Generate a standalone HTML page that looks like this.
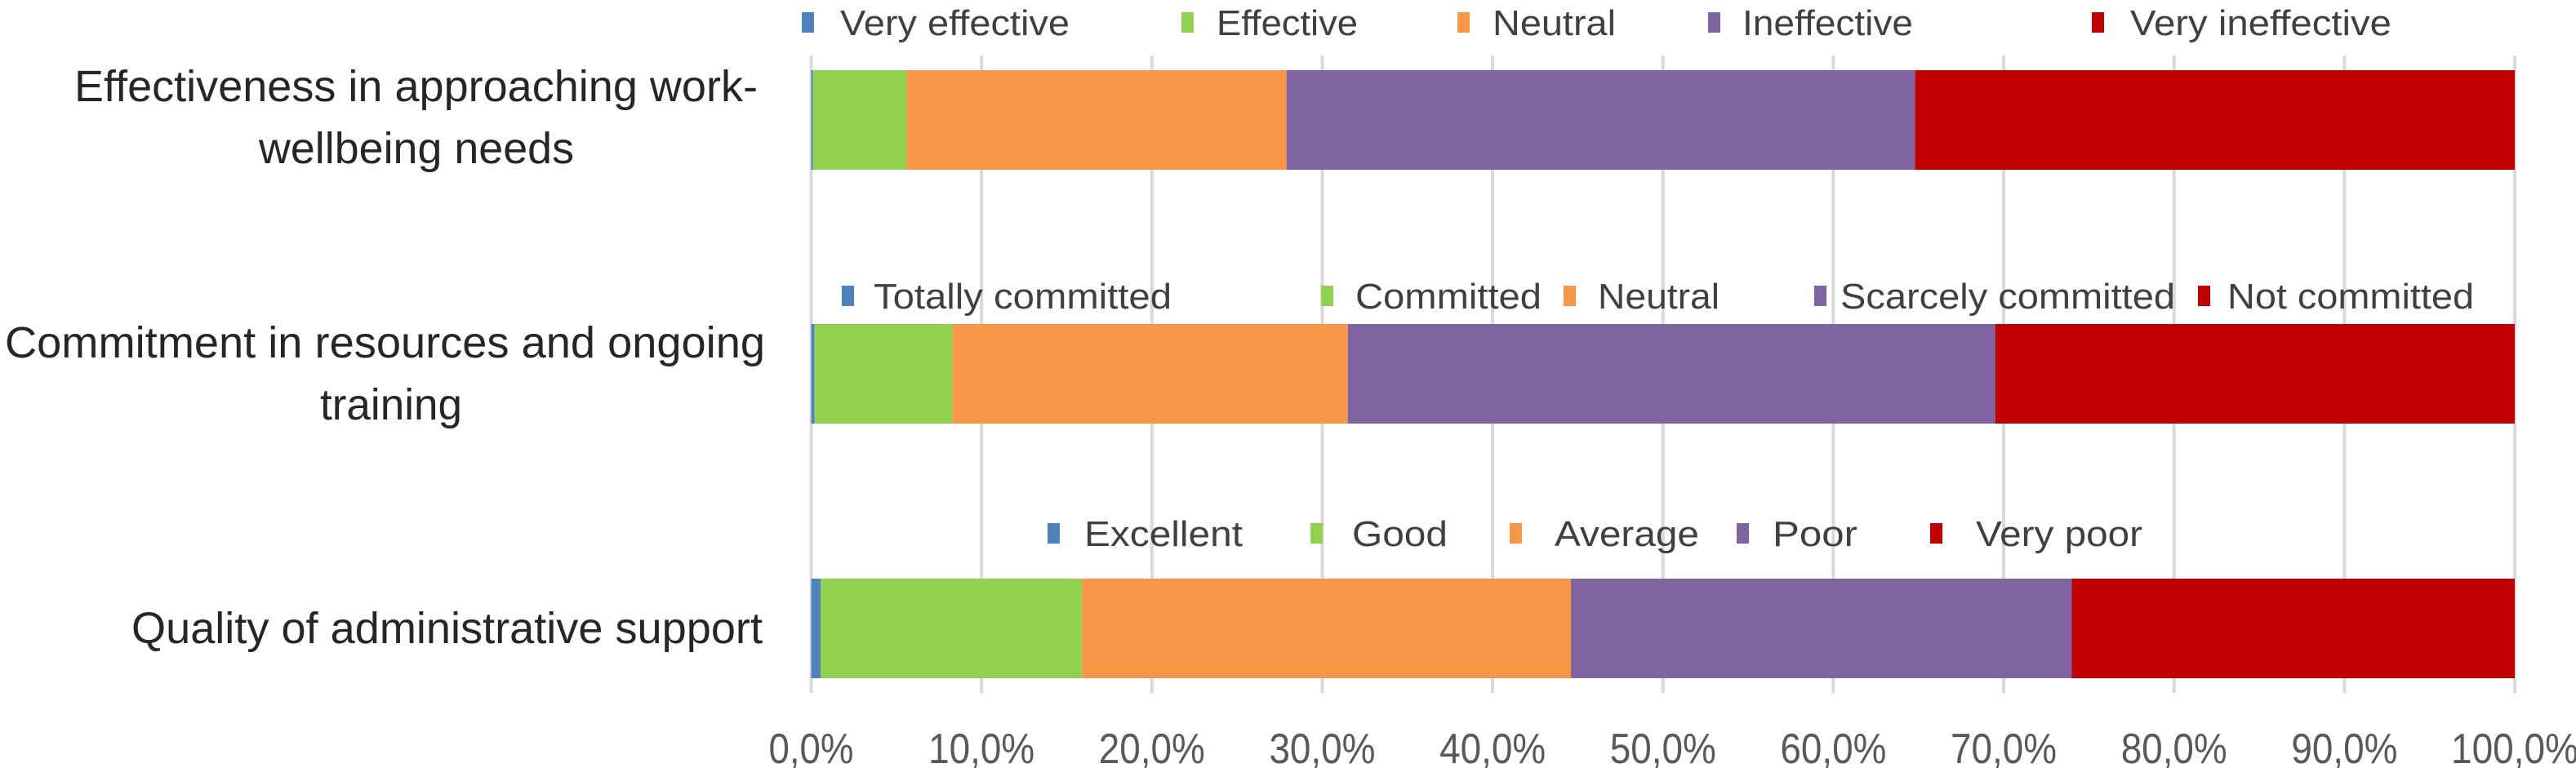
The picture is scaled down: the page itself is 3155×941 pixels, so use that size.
<!DOCTYPE html>
<html><head><meta charset="utf-8"><style>
html,body{margin:0;padding:0;background:#fff;}
svg{display:block;font-family:"Liberation Sans",sans-serif;}
</style></head><body>
<svg id="chart" width="3155" height="941" viewBox="0 0 3155 941" xmlns="http://www.w3.org/2000/svg">
<g id="grid"></g>
<g id="bars"></g>
<g id="cats"></g>
<g id="ticks"></g>
<g id="legends"></g>
</svg>
<script>
const categories = ["Effectiveness in approaching work-wellbeing needs","Commitment in resources and ongoing training","Quality of administrative support"];
const series1 = [0.1, 0.2, 0.55];   // very positive
const series2 = [5.5, 8.1, 15.35];  // positive
const series3 = [22.3, 23.2, 28.7]; // neutral
const series4 = [36.9, 38.0, 29.4]; // negative
const series5 = [35.2, 30.5, 26.0]; // very negative
const tickValues = [0,10,20,30,40,50,60,70,80,90,100];
const tickLabels = ["0,0%","10,0%","20,0%","30,0%","40,0%","50,0%","60,0%","70,0%","80,0%","90,0%","100,0%"];
const legend1 = ["Very effective","Effective","Neutral","Ineffective","Very ineffective"];
const legend2 = ["Totally committed","Committed","Neutral","Scarcely committed","Not committed"];
const legend3 = ["Excellent","Good","Average","Poor","Very poor"];

const NS="http://www.w3.org/2000/svg";
const colors=["#4f81bd","#92d050","#f79646","#8064a2","#c00000"];
const x0=993.5, x1=3080;
function xs(v){return x0+(v/100)*(x1-x0);}
const barTops=[86,397,709], barH=122;
function mk(tag,attrs,parent){const e=document.createElementNS(NS,tag);for(const k in attrs)e.setAttribute(k,attrs[k]);parent.appendChild(e);return e;}

const grid=document.getElementById('grid');
tickValues.forEach((t,i)=>{
  const l=mk('line',{x1:xs(t),x2:xs(t),y1:68,y2:849,stroke:'#d9d9d9','stroke-width':4},grid);
  
  
});
const ticks=document.getElementById('ticks');
tickValues.forEach((t,i)=>{
  const len=tickLabels[i].length;
  const tx=mk('text',{x:xs(t),y:935,'font-size':52,fill:'#595959','text-anchor':'middle',textLength:len*26,lengthAdjust:'spacingAndGlyphs'},ticks);
  tx.textContent=tickLabels[i];
  
  
});

const bars=document.getElementById('bars');
const all=[series1,series2,series3,series4,series5];
categories.forEach((c,ci)=>{
  let acc=0;
  all.forEach((s,si)=>{
    const v=s[ci];
    const r=mk('rect',{x:xs(acc),y:barTops[ci],width:xs(acc+v)-xs(acc),height:barH,fill:colors[si]},bars);
    
    
    acc+=v;
  });
});

const cats=document.getElementById('cats');
const catLines=[
  [["Effectiveness in approaching work-",91,928,124],["wellbeing needs",317,703,200]],
  [["Commitment in resources and ongoing",6,937,438],["training",392,566,514]],
  [["Quality of administrative support",161,934,788]]
];
catLines.forEach(lines=>lines.forEach(([t,a,b,y])=>{
  const tx=mk('text',{x:a,y:y,'font-size':54,fill:'#262626',textLength:b-a,lengthAdjust:'spacingAndGlyphs'},cats);
  tx.textContent=t;
  
  
}));

const legends=document.getElementById('legends');
const legendLayout=[
  {labels:legend1,y:27,items:[[989,1029,1310],[1454,1490,1663],[1792,1828,1979],[2099,2134,2343],[2569,2609,2929]]},
  {labels:legend2,y:362,items:[[1038,1070,1435],[1625,1660,1888],[1922,1957,2106],[2229,2254,2664],[2699,2728,3030]]},
  {labels:legend3,y:653,items:[[1290,1328,1522],[1612,1656,1773],[1856,1904,2081],[2134,2171,2275],[2371,2420,2624]]}
];
legendLayout.forEach(L=>{
  L.items.forEach(([mx,tx0,tx1],i)=>{
    const m=mk('rect',{x:mx-7,y:L.y-12,width:15,height:25,fill:colors[i]},legends);
    
    
    const t=mk('text',{x:tx0,y:L.y+16,'font-size':44,fill:'#404040',textLength:tx1-tx0,lengthAdjust:'spacingAndGlyphs'},legends);
    t.textContent=L.labels[i];
    
    
  });
});
</script>
</body></html>
